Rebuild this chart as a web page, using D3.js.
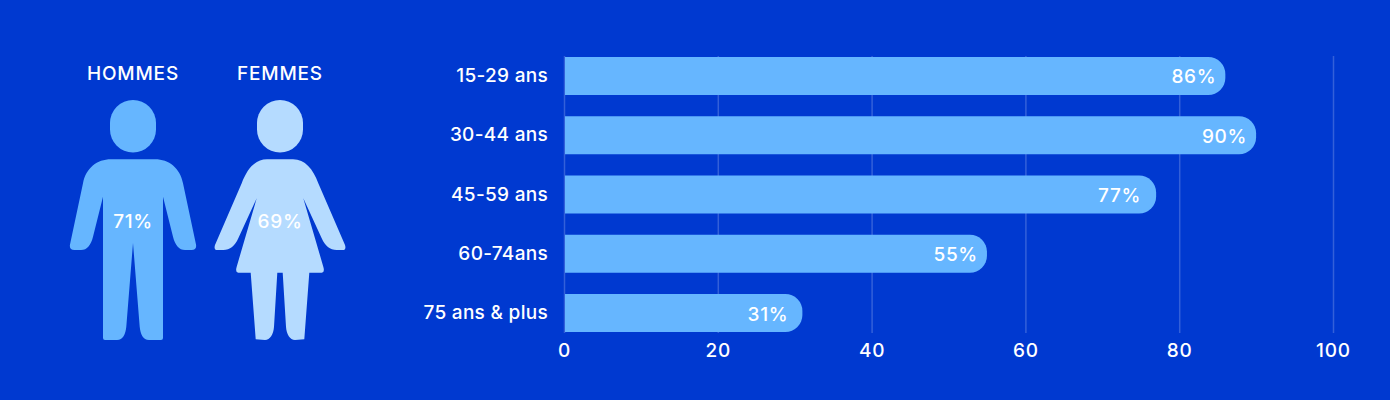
<!DOCTYPE html>
<html lang="fr">

<head>
  <meta charset="UTF-8">
  <title>Hommes et femmes par âge</title>
  <style>
    html, body { margin: 0; padding: 0; background: #0039d0; }
    svg { display: block; }
    text { font-family: Inter, sans-serif; font-weight: 500; fill: #fff; }
  </style>
</head>

<body>
  <script src="https://cdnjs.cloudflare.com/ajax/libs/d3/7.8.5/d3.min.js"></script>
  <script>
    // data
    const genders = ['HOMMES', 'FEMMES']
    const genderValues = [71, 69]
    const ageGroups = ['15-29 ans', '30-44 ans', '45-59 ans', '60-74ans', '75 ans & plus']
    const ageValues = [86, 90, 77, 55, 31]
    const xTicks = [0, 20, 40, 60, 80, 100]

    const width = 1390
    const height = 400
    const barColor = '#66b6ff'
    const womanColor = '#b5dbff'
    const gridColor = 'rgba(255,255,255,0.2)'

    // label tweaks, the labels are not quite evenly placed in the original
    const labelInset = [9, 9, 15, 9, 14]

    const svg = d3.select('body')
      .append('svg')
      .attr('width', width)
      .attr('height', height)

    const x = d3.scaleLinear().domain([0, 100]).range([564, 1333])
    const y = d3.scaleBand().domain(ageGroups).range([57, 332]).paddingInner(0.359)
    const figureX = d3.scalePoint().domain(genders).range([133, 280])

    // grid
    svg.append('g')
      .selectAll('line')
      .data(xTicks)
      .join('line')
      .attr('x1', d => x(d) + 0.5)
      .attr('x2', d => x(d) + 0.5)
      .attr('y1', 56)
      .attr('y2', 333)
      .attr('stroke', gridColor)
      .attr('stroke-width', 1.5)

    // bars, round on the right side only
    function barPath(d, i) {
      const r = 17
      const top = y(ageGroups[i])
      const h = y.bandwidth()
      const p = d3.path()
      p.moveTo(x(0) + 1, top)
      p.lineTo(x(d) - r, top)
      p.arcTo(x(d), top, x(d), top + r, r)
      p.lineTo(x(d), top + h - r)
      p.arcTo(x(d), top + h, x(d) - r, top + h, r)
      p.lineTo(x(0) + 1, top + h)
      p.closePath()
      return p.toString()
    }

    svg.append('g')
      .selectAll('path')
      .data(ageValues)
      .join('path')
      .attr('d', barPath)
      .attr('fill', barColor)

    svg.append('g')
      .selectAll('text')
      .data(ageValues)
      .join('text')
      .attr('x', (d, i) => x(d) - labelInset[i])
      .attr('y', (d, i) => y(ageGroups[i]) + y.bandwidth() / 2 + 7.5)
      .attr('text-anchor', 'end')
      .attr('font-size', 19)
      .style('letter-spacing', '0.7px')
      .text(d => d + '%')

    // axes
    const xAxis = d3.axisBottom(x).tickValues(xTicks).tickSize(0).tickPadding(0)
    const xG = svg.append('g')
      .attr('transform', 'translate(0,340)')
      .call(xAxis)
    xG.select('.domain').remove()
    xG.selectAll('text')
      .attr('dy', 17)
      .attr('font-size', 19)
      .style('letter-spacing', '0.8px')

    const yAxis = d3.axisLeft(y).tickSize(0).tickPadding(0)
    const yG = svg.append('g')
      .attr('transform', 'translate(548,0)')
      .call(yAxis)
    yG.select('.domain').remove()
    yG.selectAll('text')
      .attr('dy', 6)
      .attr('font-size', 19)
      .style('letter-spacing', '0.3px')

    // pictograms, drawn around their centre line, head top at y=0
    const manBody = 'M-22,59.3 L22,59.3 C36,59.3 47,68 50,83.3 L63,144.5 Q64,150 58.5,150 L52,150 ' +
      'C46,150 42,145 40,136.7 L30,96.7 L30,238 Q30,240 28,240 L16,240 C10,240 7.5,234 6.7,226.7 L0,143 ' +
      'L-6.7,226.7 C-7.5,234 -10,240 -16,240 L-28,240 Q-30,240 -30,238 L-30,96.7 L-40,136.7 ' +
      'C-42,145 -46,150 -52,150 L-58.5,150 Q-64,150 -63,144.5 L-50,83.3 C-47,68 -36,59.3 -22,59.3 Z'
    const womanBody = 'M-13,59.3 L13,59.3 C25,59.3 33,69 38.3,83.3 L65,145 Q66.5,150 62.7,150 L56.7,150 ' +
      'C50,150 45,146 41.7,138.3 L23.3,98.3 L43.3,166.7 Q45,172.7 41.7,172.7 L29.3,172.7 L24.3,239.3 ' +
      'L15,240 C10,240 6.5,234 6,226.7 L2.7,172.7 L-2.7,172.7 L-6,226.7 C-6.5,234 -10,240 -15,240 ' +
      'L-24.3,239.3 L-29.3,172.7 L-41.7,172.7 Q-45,172.7 -43.3,166.7 L-23.3,98.3 L-41.7,138.3 ' +
      'C-45,146 -50,150 -56.7,150 L-62.7,150 Q-66.5,150 -65,145 L-38.3,83.3 C-33,69 -25,59.3 -13,59.3 Z'
    const bodies = [manBody, womanBody]
    const figureColors = [barColor, womanColor]

    const figures = svg.append('g')
      .selectAll('g')
      .data(genders)
      .join('g')
      .attr('transform', d => `translate(${figureX(d)},100)`)

    figures.append('rect')
      .attr('x', -23)
      .attr('width', 46)
      .attr('height', 52.5)
      .attr('rx', 23)
      .attr('ry', 23)
      .attr('fill', (d, i) => figureColors[i])

    figures.append('path')
      .attr('d', (d, i) => bodies[i])
      .attr('fill', (d, i) => figureColors[i])

    figures.append('text')
      .attr('y', -20)
      .attr('text-anchor', 'middle')
      .attr('font-size', 19)
      .style('letter-spacing', '0.8px')
      .text(d => d)

    figures.append('text')
      .attr('y', 128)
      .attr('text-anchor', 'middle')
      .attr('font-size', 19)
      .style('letter-spacing', '0.7px')
      .text((d, i) => genderValues[i] + '%')
  </script>
</body>

</html>
